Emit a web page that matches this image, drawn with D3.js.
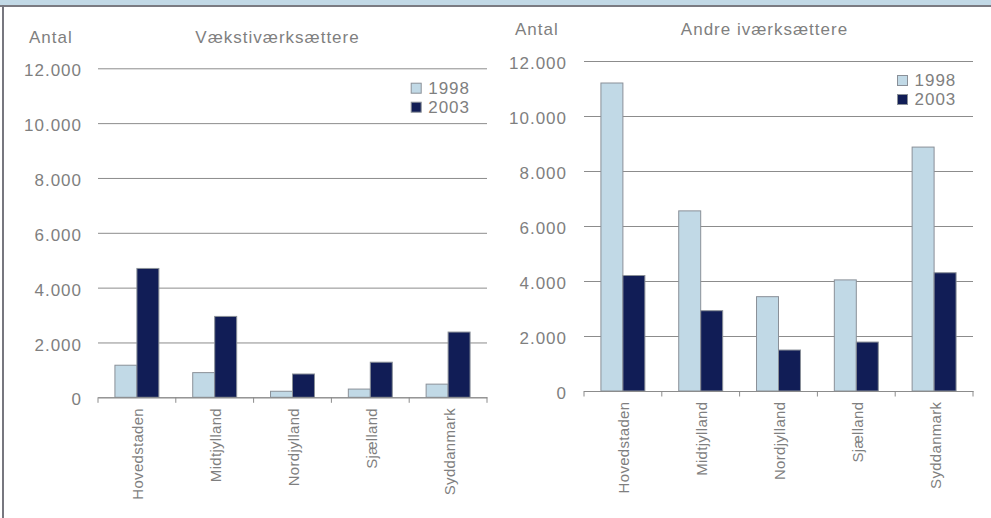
<!DOCTYPE html>
<html>
<head>
<meta charset="utf-8">
<script src="https://cdn.jsdelivr.net/npm/d3@7"></script>
<style>
  html, body { margin: 0; padding: 0; background: #fff; }
  svg { display: block; }
  text { font-family: "Liberation Sans", Arial, sans-serif; fill: #7f7f7f; }
</style>
</head>
<body>
<svg id="chart" width="991" height="518"></svg>
<script>
// ---- Data ----
const categories = ["Hovedstaden", "Midtjylland", "Nordjylland", "Sjælland", "Syddanmark"];
const years = ["1998", "2003"];
const vaekst1998 = [1170, 900, 220, 300, 480];
const vaekst2003 = [4700, 2950, 850, 1280, 2380];
const andre1998 = [11200, 6550, 3430, 4040, 8870];
const andre2003 = [4200, 2920, 1490, 1780, 4300];
const yTicks = [0, 2000, 4000, 6000, 8000, 10000, 12000];
const titles = ["Vækstiværksættere", "Andre iværksættere"];
const yAxisLabel = "Antal";

const colors = { "1998": "#c1d9e6", "2003": "#111d56" };
const daLocale = d3.formatLocale({ decimal: ",", thousands: ".", grouping: [3], currency: ["", " kr."] });
const fmt = daLocale.format(",");

const svg = d3.select("#chart");

// frame
svg.append("rect").attr("x", 0).attr("y", 0).attr("width", 991).attr("height", 5).attr("fill", "#c2d9e6");
svg.append("rect").attr("x", 0).attr("y", 5).attr("width", 991).attr("height", 2).attr("fill", "#7b7b82");
svg.append("rect").attr("x", 2).attr("y", 5).attr("width", 2).attr("height", 513).attr("fill", "#77777f");

const panels = [
  { title: titles[0], s1998: vaekst1998, s2003: vaekst2003,
    x0: 98, x1: 487, yBottom: 397.3, yTop: 68.3,
    antalX: 29, headY: 43, titleCX: 277.5, labelRight: 82,
    legX: 410.7, legY: 82.7 },
  { title: titles[1], s1998: andre1998, s2003: andre2003,
    x0: 584, x1: 973, yBottom: 391, yTop: 61,
    antalX: 515, headY: 35, titleCX: 764.5, labelRight: 567,
    legX: 897, legY: 75 }
];

panels.forEach(p => {
  const g = svg.append("g");
  const x = d3.scaleBand().domain(categories).range([p.x0, p.x1]).paddingInner(0).paddingOuter(0);
  const xs = d3.scaleBand().domain(years).range([0, x.bandwidth()]).paddingInner(0).paddingOuter(0.77);
  const y = d3.scaleLinear().domain([0, 12000]).range([p.yBottom, p.yTop]);

  // header texts
  g.append("text").attr("x", p.antalX).attr("y", p.headY)
    .attr("font-size", 17).attr("letter-spacing", "1px").text(yAxisLabel);
  g.append("text").attr("x", p.titleCX).attr("y", p.headY).attr("text-anchor", "middle")
    .attr("font-size", 17).attr("letter-spacing", "1px").text(p.title);

  // y axis with gridlines
  const yAxis = d3.axisLeft(y).tickValues(yTicks).tickFormat(fmt)
    .tickSize(-(p.x1 - p.x0)).tickPadding(p.x0 - p.labelRight);
  const ya = g.append("g").attr("transform", `translate(${p.x0},0)`).call(yAxis);
  ya.select(".domain").remove();
  ya.selectAll(".tick line").attr("stroke", "#8c8c8c").attr("stroke-width", 1);
  ya.selectAll(".tick text").attr("font-size", 17).attr("letter-spacing", "1px")
    .attr("font-family", "Liberation Sans, Arial, sans-serif").attr("fill", "#7f7f7f")
    .attr("dy", "0.45em");

  // bars
  const data = categories.map((c, i) => ({ cat: c, vals: [{ year: "1998", v: p.s1998[i] }, { year: "2003", v: p.s2003[i] }] }));
  const grp = g.append("g").selectAll("g").data(data).join("g")
    .attr("transform", d => `translate(${x(d.cat)},0)`);
  grp.selectAll("rect").data(d => d.vals).join("rect")
    .attr("x", d => xs(d.year))
    .attr("y", d => y(d.v))
    .attr("width", xs.bandwidth())
    .attr("height", d => y(0) - y(d.v))
    .attr("fill", d => colors[d.year])
    .attr("stroke", "#8a9098").attr("stroke-width", 1);

  // x axis
  const xAxis = d3.axisBottom(x).tickSize(0).tickSizeOuter(0);
  const xa = g.append("g").attr("transform", `translate(0,${y(0)})`).call(xAxis);
  xa.select(".domain").attr("stroke", "#8c8c8c");
  xa.selectAll(".tick text")
    .attr("font-size", 15).attr("letter-spacing", "0.3px")
    .attr("font-family", "Liberation Sans, Arial, sans-serif").attr("fill", "#7f7f7f")
    .attr("transform", "rotate(-90)")
    .attr("text-anchor", "end")
    .attr("x", -10.7).attr("y", 6.4).attr("dy", 0);
  // boundary tick marks
  const bounds = categories.map(c => x(c)).concat([x(categories[categories.length - 1]) + x.bandwidth()]);
  xa.selectAll("line.bt").data(bounds).join("line").attr("class", "bt")
    .attr("x1", d => d).attr("x2", d => d).attr("y1", 0).attr("y2", 5.5)
    .attr("stroke", "#8c8c8c");

  // legend
  const leg = g.append("g");
  years.forEach((yr, i) => {
    const ly = p.legY + i * 19;
    leg.append("rect").attr("x", p.legX + 0.5).attr("y", ly + 0.5).attr("width", 10).attr("height", 10)
      .attr("fill", colors[yr]).attr("stroke", "#8a9098");
    leg.append("text").attr("x", p.legX + 17.5).attr("y", ly + 11)
      .attr("font-size", 17).attr("letter-spacing", "1px").text(yr);
  });
});
</script>
</body>
</html>
